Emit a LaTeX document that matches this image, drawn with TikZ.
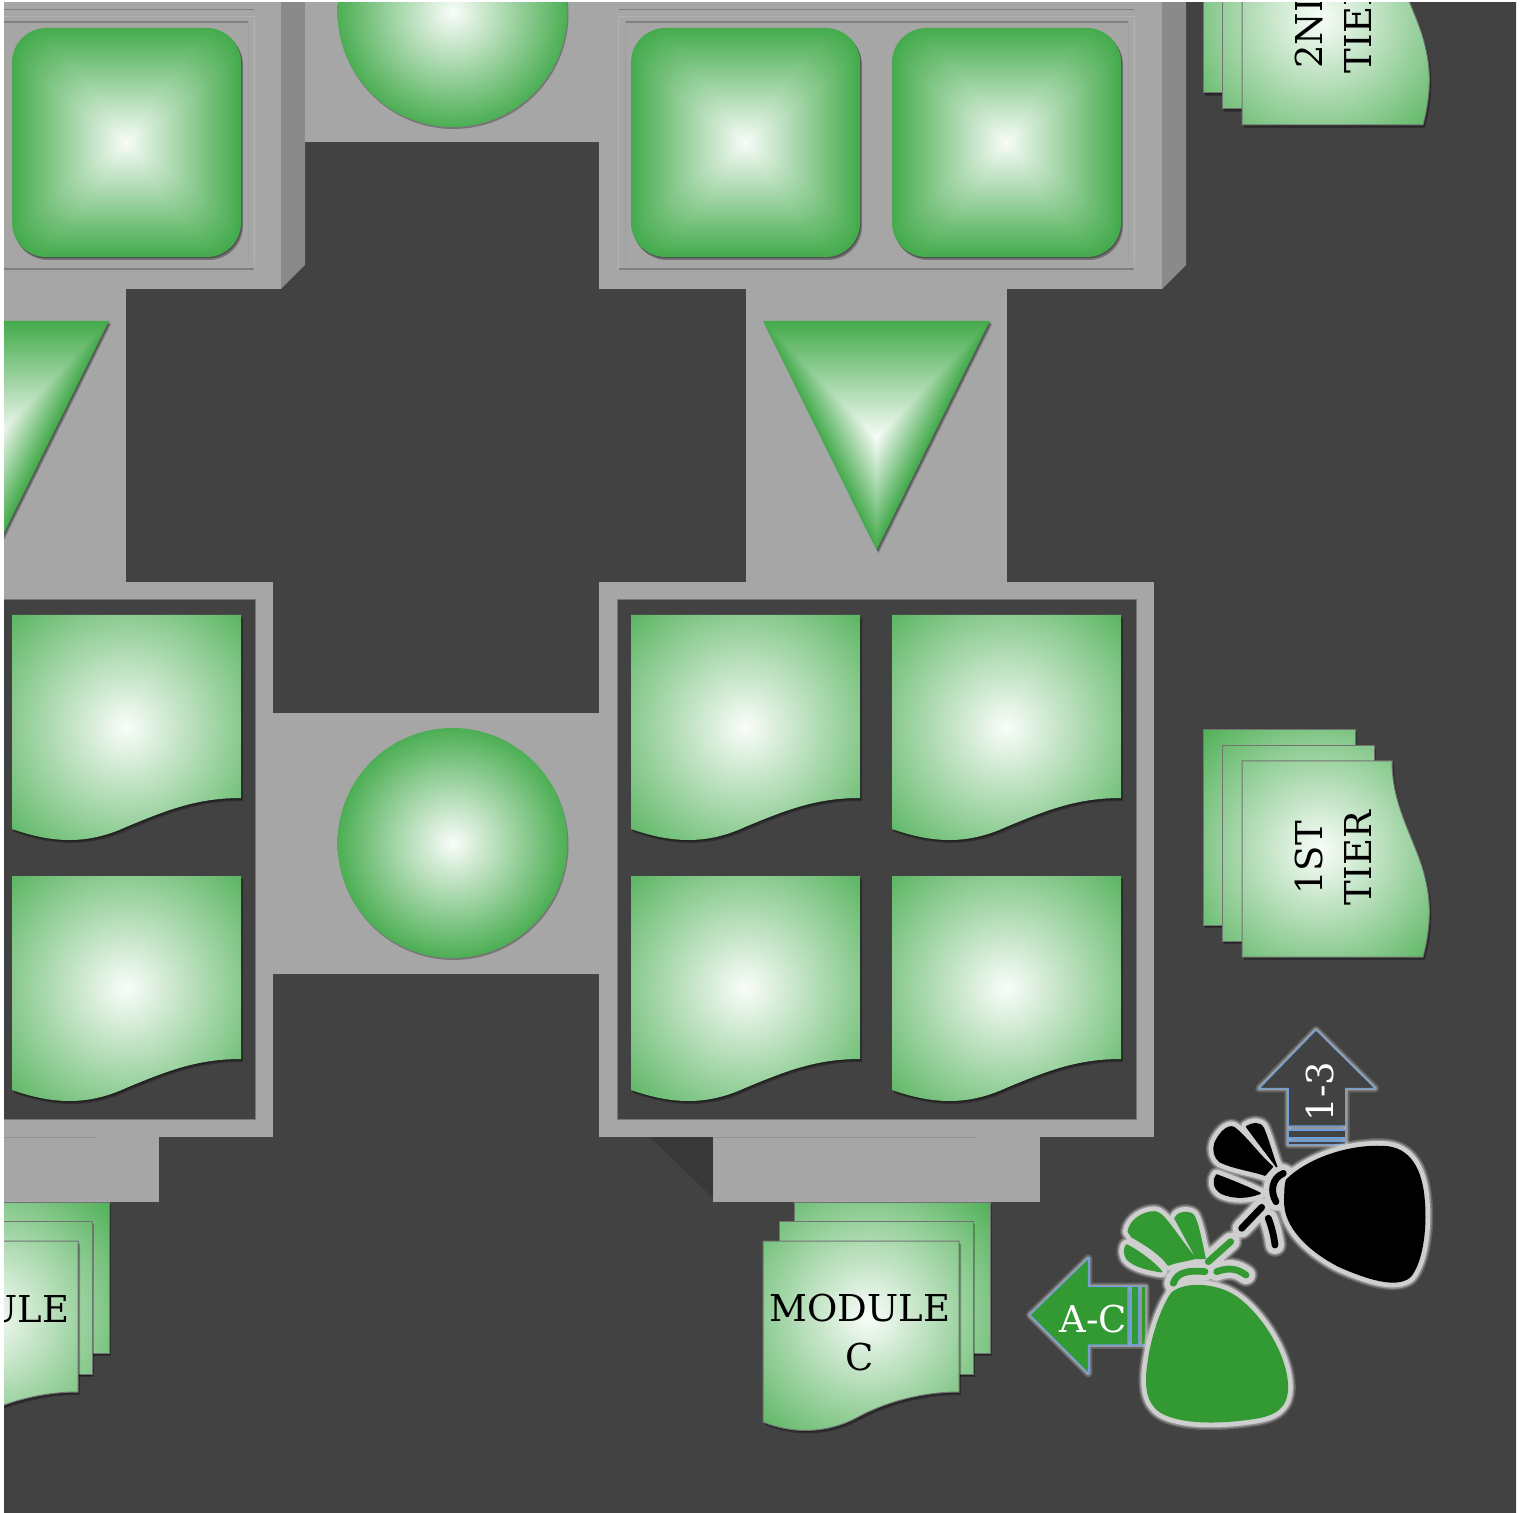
\documentclass[tikz,border=0pt]{standalone}
\usepackage{fontspec}
\setmainfont{DejaVu Serif}
\definecolor{grn}{HTML}{45AB4D}
\definecolor{bggrey}{HTML}{424242}
\definecolor{panel}{HTML}{A6A6A6}
\definecolor{side}{HTML}{8A8A8A}
\definecolor{edge}{HTML}{777777}
\definecolor{bagg}{HTML}{339933}
\definecolor{halo}{HTML}{CFCFCF}
\definecolor{arrowblue}{HTML}{6C9FDC}
\pgfdeclareradialshading{gwr}{\pgfpoint{0bp}{0bp}}{color(0bp)=(white!97!grn); color(26bp)=(grn); color(50bp)=(grn)}
\tikzset{
  x=0.5pt,y=-0.5pt,
  softshadow/.style={fill=black,opacity=.28},
  outline/.style={draw=black!55,line width=.5pt},
  lbl/.style={font=\fontsize{18.5}{24.5}\selectfont,align=center,inner sep=0pt,text=black},
  wlbl/.style={font=\fontsize{18.5}{24.5}\selectfont,inner sep=0pt,text=white},
  arrowline/.style={draw=arrowblue,line width=.55pt},
}
\newcommand{\softshape}[1]{%
  \fill[softshadow,shift={(2,3)}] #1;
  \fill[softshadow,shift={(1,1.5)}] #1;
}
% rounded square with a square gradient
\newcommand{\sqg}[2]{%
  \begin{scope}[shift={(#1,#2)}]
    \softshape{[rounded corners=17pt] (-114.5,-114.5) rectangle (114.5,114.5)}
    \foreach \i in {0,...,45}{
      \pgfmathsetmacro\ta{\i/46}
      \pgfmathsetmacro\ins{114.5*(1-\ta)}
      \pgfmathsetmacro\rad{\ins*(.3+.3*\ta)/2+.01}
      \pgfmathsetmacro\mx{100*(1-\ta)}
      \fill[grn!\mx!white!97!grn,rounded corners=\rad pt] (-\ins,-\ins) rectangle (\ins,\ins);
    }
  \end{scope}}
% triangle with a nested gradient, apex at (#1, 550)
\newcommand{\trg}[1]{%
  \begin{scope}[shift={(#1,438)}]
    \softshape{(-113.5,-117) -- (113.5,-117) -- (0,112) -- cycle}
    \foreach \i in {0,...,45}{
      \pgfmathsetmacro\ta{\i/46}
      \pgfmathsetmacro\sc{1-\ta}
      \pgfmathsetmacro\mx{100*(1-\ta)}
      \fill[grn!\mx!white!97!grn] (-113.5*\sc,-117*\sc) -- (113.5*\sc,-117*\sc) -- (0,112*\sc) -- cycle;
    }
  \end{scope}}
% document with wave at the bottom
\newcommand{\docpath}{(0,0) -- (229,0) -- (229,183) .. controls (185,183) and (155,195) .. (114,212) .. controls (75,230) and (40,228) .. (0,214) -- cycle}
\newcommand{\docg}[2]{%
  \begin{scope}[shift={(#1,#2)}]
    \softshape{\docpath}
    \begin{scope}
      \clip \docpath;
      \shade[shading=gwr] (114,112) circle (88pt);
    \end{scope}
  \end{scope}}
% stack of three module sheets
\newcommand{\stackshape}[2]{%
  \softshape{#1}
  \begin{scope}\clip #1; \shade[shading=gwr] #2 circle (86pt);\end{scope}
  \draw[outline] #1;
}
\newcommand{\modstack}[1]{%
  \begin{scope}[shift={(#1,0)}]
    \stackshape{(794,1202) -- (990,1202) -- (990,1353) -- (794,1353) -- cycle}{(868,1316)}
    \stackshape{(779,1221) -- (973,1221) -- (973,1374) -- (779,1374) -- cycle}{(868,1316)}
    \stackshape{(763,1241) -- (959,1241) -- (959,1392) .. controls (920,1392) and (885,1403) .. (860,1416) .. controls (830,1433) and (795,1435) .. (763,1422) -- cycle}{(868,1316)}
  \end{scope}}
\newcommand{\tierstack}[1]{%
  \begin{scope}[shift={(0,#1)}]
    \stackshape{(1203,730) -- (1355,730) -- (1355,925) -- (1203,925) -- cycle}{(1320,850)}
    \stackshape{(1222,746) -- (1374,746) -- (1374,941) -- (1222,941) -- cycle}{(1320,850)}
    \stackshape{(1242,761) -- (1392,761) .. controls (1392,795) and (1404,820) .. (1416,850) .. controls (1430,885) and (1434,915) .. (1423,957) -- (1242,957) -- cycle}{(1320,850)}
  \end{scope}}
% bag pieces, in 3x crop coordinates
\newcommand{\gbody}{(455,850) .. controls (490,820) and (560,820) .. (620,845) .. controls (700,880) and (800,1020) .. (802,1130) .. controls (802,1190) and (770,1215) .. (700,1225) .. controls (600,1240) and (500,1240) .. (440,1215) .. controls (390,1195) and (375,1150) .. (382,1080) .. controls (390,1000) and (420,900) .. (455,850) -- cycle}
\newcommand{\globea}{(325,665) .. controls (330,630) and (370,605) .. (405,606) .. controls (430,610) and (445,640) .. (525,745) .. controls (500,752) and (470,755) .. (445,765) .. controls (420,730) and (370,700) .. (335,680) -- cycle}
\newcommand{\globeb}{(465,625) .. controls (470,610) and (500,600) .. (520,615) .. controls (535,640) and (545,700) .. (555,745) -- (530,745) -- cycle}
\newcommand{\globec}{(320,705) .. controls (350,720) and (400,755) .. (425,785) .. controls (390,780) and (340,770) .. (320,745) .. controls (312,730) and (312,715) .. (320,705) -- cycle}
\newcommand{\gtiea}{(460,820) .. controls (470,785) and (510,780) .. (555,785)}
\newcommand{\gtieb}{(590,785) .. controls (625,772) and (650,775) .. (678,795)}
\newcommand{\gtiec}{(565,755) -- (632,695)}
\newcommand{\kbody}{(800,510) .. controls (860,450) and (980,405) .. (1090,410) .. controls (1170,412) and (1205,480) .. (1212,570) .. controls (1220,660) and (1205,760) .. (1170,800) .. controls (1130,835) and (1040,805) .. (960,770) .. controls (870,725) and (790,650) .. (795,570) .. controls (795,545) and (795,525) .. (800,510) -- cycle}
\newcommand{\klobea}{(585,400) .. controls (595,375) and (620,345) .. (640,352) .. controls (670,370) and (720,440) .. (757,470) -- (735,495) .. controls (690,480) and (640,475) .. (600,455) .. controls (585,445) and (578,420) .. (585,400) -- cycle}
\newcommand{\klobeb}{(680,350) .. controls (695,340) and (720,335) .. (730,355) .. controls (745,390) and (755,430) .. (770,470) .. controls (740,430) and (705,385) .. (680,350) -- cycle}
\newcommand{\klobec}{(590,495) .. controls (630,510) and (680,530) .. (720,550) .. controls (680,565) and (640,565) .. (605,550) .. controls (580,535) and (578,510) .. (590,495) -- cycle}
\newcommand{\ktiea}{(790,490) .. controls (755,505) and (750,545) .. (768,575)}
\newcommand{\ktieb}{(665,655) -- (725,592)}
\newcommand{\ktiec}{(745,625) .. controls (755,650) and (762,680) .. (765,705)}
\newcommand{\bagpieces}[8]{%
  \foreach \hw/\ho in {8.5pt/.22,7pt/.45,5.5pt/1}{
    \draw[halo,opacity=\ho,line width=\hw,line join=round] #2 #3 #4 #5;
    \draw[halo,opacity=\ho,line width=\hw+3.5pt,line cap=round] #6 #7 #8;
  }
  \filldraw[#1,line width=.8pt,line join=round] #2 #3 #4 #5;
  \draw[#1,line width=3.4pt,line cap=round] #6 #7 #8;
}
% soft light edge round a whole arrow
\newcommand{\arrowhalo}[1]{%
  \draw[halo,opacity=.25,line width=4pt,line join=round] #1;
  \filldraw[fill=halo!85!black,draw=halo!85!black,opacity=.75,line width=2pt,line join=round] #1;
}
\begin{document}
\begin{tikzpicture}
\useasboundingbox (0,0) rectangle (1527,1513);
\fill[white] (0,0) rectangle (1527,1513);
\begin{scope}
\clip (4,3) rectangle (1516,1512);
\fill[bggrey] (0,0) rectangle (1527,1513);
% side faces
\fill[side] (281,0) -- (305,0) -- (305,265) -- (281,289) -- cycle;
\fill[side] (1162,0) -- (1186,0) -- (1186,265) -- (1162,289) -- cycle;
% grey structure
\fill[panel] (0,0) rectangle (281,289);
\fill[panel] (305,0) rectangle (599,142);
\fill[panel] (599,0) rectangle (1162,289);
\fill[panel] (0,289) rectangle (126,582);
\fill[panel] (746,289) rectangle (1007,582);
\fill[panel] (0,582) rectangle (273,1137);
\fill[panel] (599,582) rectangle (1154,1137);
\fill[panel] (273,713) rectangle (599,974);
\fill[panel] (0,1137) rectangle (159,1202);
\fill[panel] (713,1137) rectangle (1040,1202);
\fill[black,opacity=.14] (650,1137) -- (713,1137) -- (713,1198) -- cycle;
\draw[black!42,line width=.4pt] (0,1137) -- (97,1137) (713,1137) -- (977,1137);
% frame interiors
\fill[bggrey] (0,600) rectangle (255,1119);
\fill[bggrey] (617,600) rectangle (1136,1119);
\draw[edge,line width=.5pt] (0,1119) -- (255,1119) -- (255,600) -- (0,600);
\draw[edge,line width=.5pt] (617,600) rectangle (1136,1119);
% recessed panels
\foreach \xa/\xb/\xc/\xd in {-10/254/-10/248,618.5/1134/625/1128}{
  \draw[black!30,line width=.4pt] (\xa,16) rectangle (\xb,269);
  \draw[black!50,line width=.9pt] (\xa,9.5) -- (\xb,9.5);
  \draw[black!50,line width=.9pt] (\xa,269) -- (\xb,269);
  \draw[black!50,line width=.9pt] (\xc,22) -- (\xd,22);
  \draw[black!38,line width=.4pt] (\xc,22) -- (\xc,262) (\xd,22) -- (\xd,262);
}
% rounded squares
\sqg{126.5}{142.5}
\sqg{745.5}{142.5}
\sqg{1006.5}{142.5}
% circles
\foreach \cy in {12,843}{
  \fill[softshadow] (453.5,\cy+2) circle (57.5pt);
  \shade[shading=gwr] (452.5,\cy) circle (57.5pt);
}
% triangles
\trg{-4.5}
\trg{876.5}
% documents
\docg{12}{615}
\docg{12}{876}
\docg{631}{615}
\docg{892}{615}
\docg{631}{876}
\docg{892}{876}
% stacks
\modstack{-881}
\node[lbl] (modA) at (-21,1309) {MODULE};
\modstack{0}
\node[lbl] (modC) at (860,1333) {MODULE\\C};
\tierstack{-832}
\node[lbl,rotate=90] (tierTwo) at (1333,26) {2ND\\TIER};
\tierstack{0}
\node[lbl,rotate=90] (tierOne) at (1333,858) {1ST\\TIER};
% arrows and bags
\begin{scope}[shift={(1020,1010)},scale=1/3]
  % up arrow
  \arrowhalo{(888,60) -- (1065,235) -- (977,235) -- (977,404) -- (805,404) -- (805,235) -- (718,235) -- cycle}
  \filldraw[fill=bggrey,arrowline] (888,60) -- (1065,235) -- (977,235) -- (977,348) -- (805,348) -- (805,235) -- (718,235) -- cycle;
  \filldraw[fill=bggrey,arrowline] (805,360) rectangle (977,384);
  \filldraw[fill=bggrey,arrowline] (805,393) rectangle (977,404);
  % left arrow
  \arrowhalo{(30,915) -- (205,745) -- (205,830) -- (377,830) -- (377,1005) -- (205,1005) -- (205,1090) -- cycle}
  \filldraw[fill=bagg,arrowline] (30,915) -- (205,745) -- (205,830) -- (324,830) -- (324,1005) -- (205,1005) -- (205,1090) -- cycle;
  \filldraw[fill=bagg,arrowline] (333,830) rectangle (357,1005);
  \filldraw[fill=bagg,arrowline] (365,830) rectangle (377,1005);
  \node[wlbl,rotate=90] (lblUp) at (900,245) {1-3};
  \node[wlbl] (lblLeft) at (220,928) {A-C};
  % bags
  \bagpieces{black}{\kbody}{\klobea}{\klobeb}{\klobec}{\ktiea}{\ktieb}{\ktiec}
  \bagpieces{bagg}{\gbody}{\globea}{\globeb}{\globec}{\gtiea}{\gtieb}{\gtiec}
\end{scope}
\end{scope}
\end{tikzpicture}
\end{document}
